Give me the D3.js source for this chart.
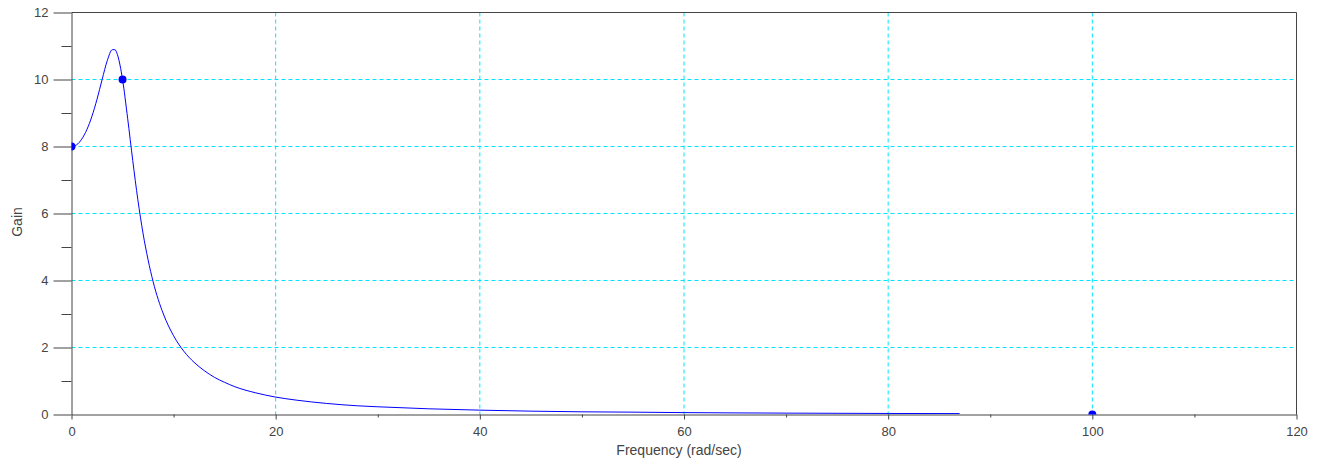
<!DOCTYPE html>
<html>
<head>
<meta charset="utf-8">
<script src="https://cdn.jsdelivr.net/npm/d3@7"></script>
<style>
  body { margin: 0; background: #fff; }
  text { font-family: "Liberation Sans", Arial, sans-serif; font-size: 13px; fill: #444; }
  .axis path, .axis line { stroke: #444; }
  .title { font-size: 14px; }
</style>
</head>
<body>
<div id="chart"></div>
<script>
// --------------------------------------
//  Data
// --------------------------------------

const freq = [0, 0.5, 1, 1.5, 2, 2.5, 3, 3.5, 4, 4.25, 4.5, 5, 5.5, 6, 6.5, 7, 7.5, 8, 9, 10,
  11, 12, 13, 14, 15, 16, 18, 20, 22, 25, 28, 30, 35, 40, 45, 50, 55, 60, 65, 70, 75, 80, 87];
const gain = [8, 8.05, 8.22, 8.5, 8.9, 9.41, 10, 10.56, 10.89, 10.89, 10.74, 10, 8.84, 7.58, 6.41, 5.42, 4.62, 3.96, 3.0, 2.35,
  1.89, 1.56, 1.31, 1.11, 0.96, 0.83, 0.65, 0.52, 0.43, 0.33, 0.26, 0.23, 0.17, 0.13, 0.1, 0.08, 0.07, 0.056, 0.048, 0.041, 0.036, 0.031, 0.027];

const markerFreq = [0, 5, 100];
const markerGain = [8, 10, 0];

const xMajor = [0, 20, 40, 60, 80, 100, 120];
const xMinor = [10, 30, 50, 70, 90, 110];
const yMajor = [0, 2, 4, 6, 8, 10, 12];
const yMinor = [1, 3, 5, 7, 9, 11];

// --------------------------------------
//  Canvas
// --------------------------------------

const margin = { top: 12.5, right: 24.5, bottom: 47.5, left: 71.5 };
const width = 1321;
const height = 462;
const innerwidth = width - margin.left - margin.right;
const innerheight = height - margin.top - margin.bottom;

const svg = d3
  .select("#chart")
  .append("svg")
  .attr("width", width)
  .attr("height", height)
  .attr("viewBox", [0, 0, width, height]);

const innerChart = svg
  .append("g")
  .attr("transform", `translate(${margin.left}, ${margin.top})`);

svg.append("defs")
  .append("clipPath")
  .attr("id", "plot-clip")
  .append("rect")
  .attr("x", 0)
  .attr("y", 0)
  .attr("width", innerwidth)
  .attr("height", innerheight);

// --------------------------------------
// Scales
// --------------------------------------

const x = d3.scaleLinear([0, 120], [0, innerwidth]);
const y = d3.scaleLinear([0, 12], [innerheight, 0]);

// --------------------------------------
// Grid
// --------------------------------------

const gridX = xMajor.filter((d) => d > 0 && d < 120);
const gridY = yMajor.filter((d) => d > 0 && d < 12);

innerChart
  .selectAll("line.gridx")
  .data(gridX)
  .join("line")
  .attr("class", "gridx")
  .attr("x1", (d) => x(d))
  .attr("x2", (d) => x(d))
  .attr("y1", 0)
  .attr("y2", innerheight)
  .attr("stroke", "#00e5ff")
  .attr("stroke-dasharray", "4,3");

innerChart
  .selectAll("line.gridy")
  .data(gridY)
  .join("line")
  .attr("class", "gridy")
  .attr("x1", 0)
  .attr("x2", innerwidth)
  .attr("y1", (d) => y(d))
  .attr("y2", (d) => y(d))
  .attr("stroke", "#00e5ff")
  .attr("stroke-dasharray", "4,3");

// --------------------------------------
// Axes
// --------------------------------------

// box: top and right
innerChart.append("line")
  .attr("x1", 0).attr("x2", innerwidth)
  .attr("y1", 0).attr("y2", 0)
  .attr("stroke", "#444");
innerChart.append("line")
  .attr("x1", innerwidth).attr("x2", innerwidth)
  .attr("y1", 0).attr("y2", innerheight)
  .attr("stroke", "#444");

innerChart
  .append("g")
  .attr("class", "axis")
  .attr("transform", `translate(0,${innerheight})`)
  .call(d3.axisBottom(x).tickValues(xMinor).tickSize(3).tickFormat(() => ""))
  .select(".domain").remove();

innerChart
  .append("g")
  .attr("class", "axis x-axis")
  .attr("transform", `translate(0,${innerheight})`)
  .call(d3.axisBottom(x).tickValues(xMajor).tickSize(5).tickSizeOuter(0).tickPadding(7).tickFormat(d3.format("d")))
  .call((g) => g.selectAll("text").attr("fill", null).style("font-size", "13px").style("font-family", null));

innerChart
  .append("g")
  .attr("class", "axis")
  .call(d3.axisLeft(y).tickValues(yMinor).tickSize(10).tickFormat(() => ""))
  .select(".domain").remove();

innerChart
  .append("g")
  .attr("class", "axis y-axis")
  .call(d3.axisLeft(y).tickValues(yMajor).tickSize(18).tickSizeOuter(0).tickPadding(5).tickFormat(d3.format("d")))
  .call((g) => g.selectAll("text").attr("fill", null).style("font-size", "13px").style("font-family", null));

// axis titles
svg.append("text")
  .attr("class", "title")
  .attr("x", 679)
  .attr("y", 455)
  .attr("text-anchor", "middle")
  .text("Frequency (rad/sec)");

svg.append("text")
  .attr("class", "title")
  .attr("transform", "translate(22,222) rotate(-90)")
  .attr("text-anchor", "middle")
  .text("Gain");

// --------------------------------------
// Curve and markers
// --------------------------------------

const plot = innerChart.append("g").attr("clip-path", "url(#plot-clip)");

const line = d3.line()
  .x((d, i) => x(freq[i]))
  .y((d, i) => y(gain[i]))
  .curve(d3.curveMonotoneX);

plot.append("path")
  .datum(gain)
  .attr("d", line)
  .attr("fill", "none")
  .attr("stroke", "#0000ff")
  .attr("stroke-width", 1);

plot
  .selectAll("circle.marker")
  .data(markerFreq)
  .join("circle")
  .attr("class", "marker")
  .attr("cx", (d) => x(d))
  .attr("cy", (d, i) => y(markerGain[i]))
  .attr("r", 4)
  .attr("fill", "#0000ff");
</script>
</body>
</html>
